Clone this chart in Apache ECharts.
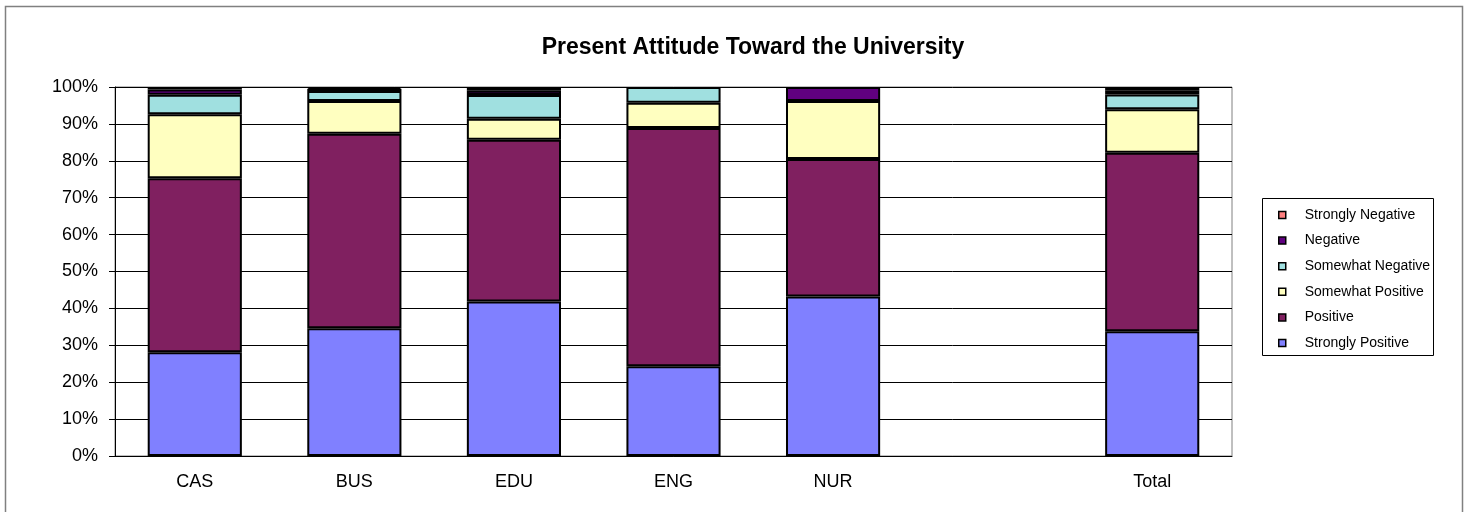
<!DOCTYPE html>
<html>
<head>
<meta charset="utf-8">
<script src="https://cdn.jsdelivr.net/npm/echarts@6/dist/echarts.min.js"></script>
<style>html,body{margin:0;padding:0;background:#fff;}#c{width:1469px;height:512px;}</style>
</head>
<body>
<div id="c"></div>
<script>
const categories = ['CAS', 'BUS', 'EDU', 'ENG', 'NUR', '', 'Total'];
const seriesNames = ['Strongly Positive', 'Positive', 'Somewhat Positive', 'Somewhat Negative', 'Negative', 'Strongly Negative'];
const stronglyPositive = [28.1, 34.6, 41.9, 24.3, 43.2, null, 33.8];
const positive         = [47.2, 52.7, 43.8, 64.6, 37.3, null, 48.4];
const somewhatPositive = [17.3, 8.9, 5.7, 6.8, 15.7, null, 11.8];
const somewhatNegative = [5.3, 2.7, 6.4, 4.3, 0, null, 4.0];
const negative         = [1.4, 0.6, 1.2, 0, 3.8, null, 1.0];
const stronglyNegative = [0.7, 0.5, 1.0, 0, 0, null, 1.0];
const yTickLabels = ['0%','10%','20%','30%','40%','50%','60%','70%','80%','90%','100%'];
const colors = ['#8080FF', '#802060', '#FFFFC0', '#A0E0E0', '#600080', '#FF8080'];
const values = [stronglyPositive, positive, somewhatPositive, somewhatNegative, negative, stronglyNegative];

const chart = echarts.init(document.getElementById('c'));
const font = 'Arial, "Liberation Sans", sans-serif';
chart.setOption({
  animation: false,
  title: {
    text: 'Present Attitude Toward the University',
    left: 748, top: 31, textAlign: 'center',
    textStyle: { fontFamily: font, fontSize: 23, fontWeight: 'bold', color: '#000' }
  },
  graphic: [
    { type: 'rect', shape: { x: 5.5, y: 6.5, width: 1457, height: 520 }, style: { fill: null, stroke: '#808080', lineWidth: 1.5 }, silent: true },
    { type: 'rect', shape: { x: 1262.5, y: 198.5, width: 171, height: 157 }, style: { fill: null, stroke: '#000', lineWidth: 1 }, silent: true }
  ],
  legend: {
    orient: 'vertical',
    left: 1278, top: 207,
    padding: 0,
    itemWidth: 7, itemHeight: 7,
    itemGap: 9.6,
    icon: 'rect',
    data: seriesNames.slice().reverse(),
    textStyle: { fontFamily: font, fontSize: 14, color: '#000', lineHeight: 16, padding: [0, 0, 0, 14] },
    itemStyle: { borderColor: '#000', borderWidth: 1.5 }
  },
  grid: {
    left: 115, right: 237, top: 87, bottom: 56,
    show: true, borderColor: '#808080', borderWidth: 1, backgroundColor: '#fff'
  },
  xAxis: {
    type: 'category',
    data: categories,
    axisLine: { lineStyle: { color: '#000', width: 1 } },
    axisTick: { length: 6, lineStyle: { color: '#000' } },
    axisLabel: { fontFamily: font, fontSize: 18, color: '#000', margin: 17 }
  },
  yAxis: {
    type: 'value',
    min: 0, max: 100, interval: 10,
    axisLine: { show: true, lineStyle: { color: '#000', width: 1 } },
    axisTick: { show: true, length: 6, lineStyle: { color: '#000' } },
    axisLabel: { fontFamily: font, fontSize: 18, color: '#000', margin: 17,
      formatter: (v) => yTickLabels[Math.round(v / 10)] },
    splitLine: { lineStyle: { color: '#000', width: 1 } }
  },
  series: seriesNames.map((name, i) => ({
    name: name,
    type: 'bar',
    stack: 'all',
    barCategoryGap: '41%',
    data: values[i].map(v => (v === 0 || v === null) ? '-' : v),
    itemStyle: { color: colors[i], borderColor: '#000', borderWidth: 2 }
  }))
});
</script>
</body>
</html>
